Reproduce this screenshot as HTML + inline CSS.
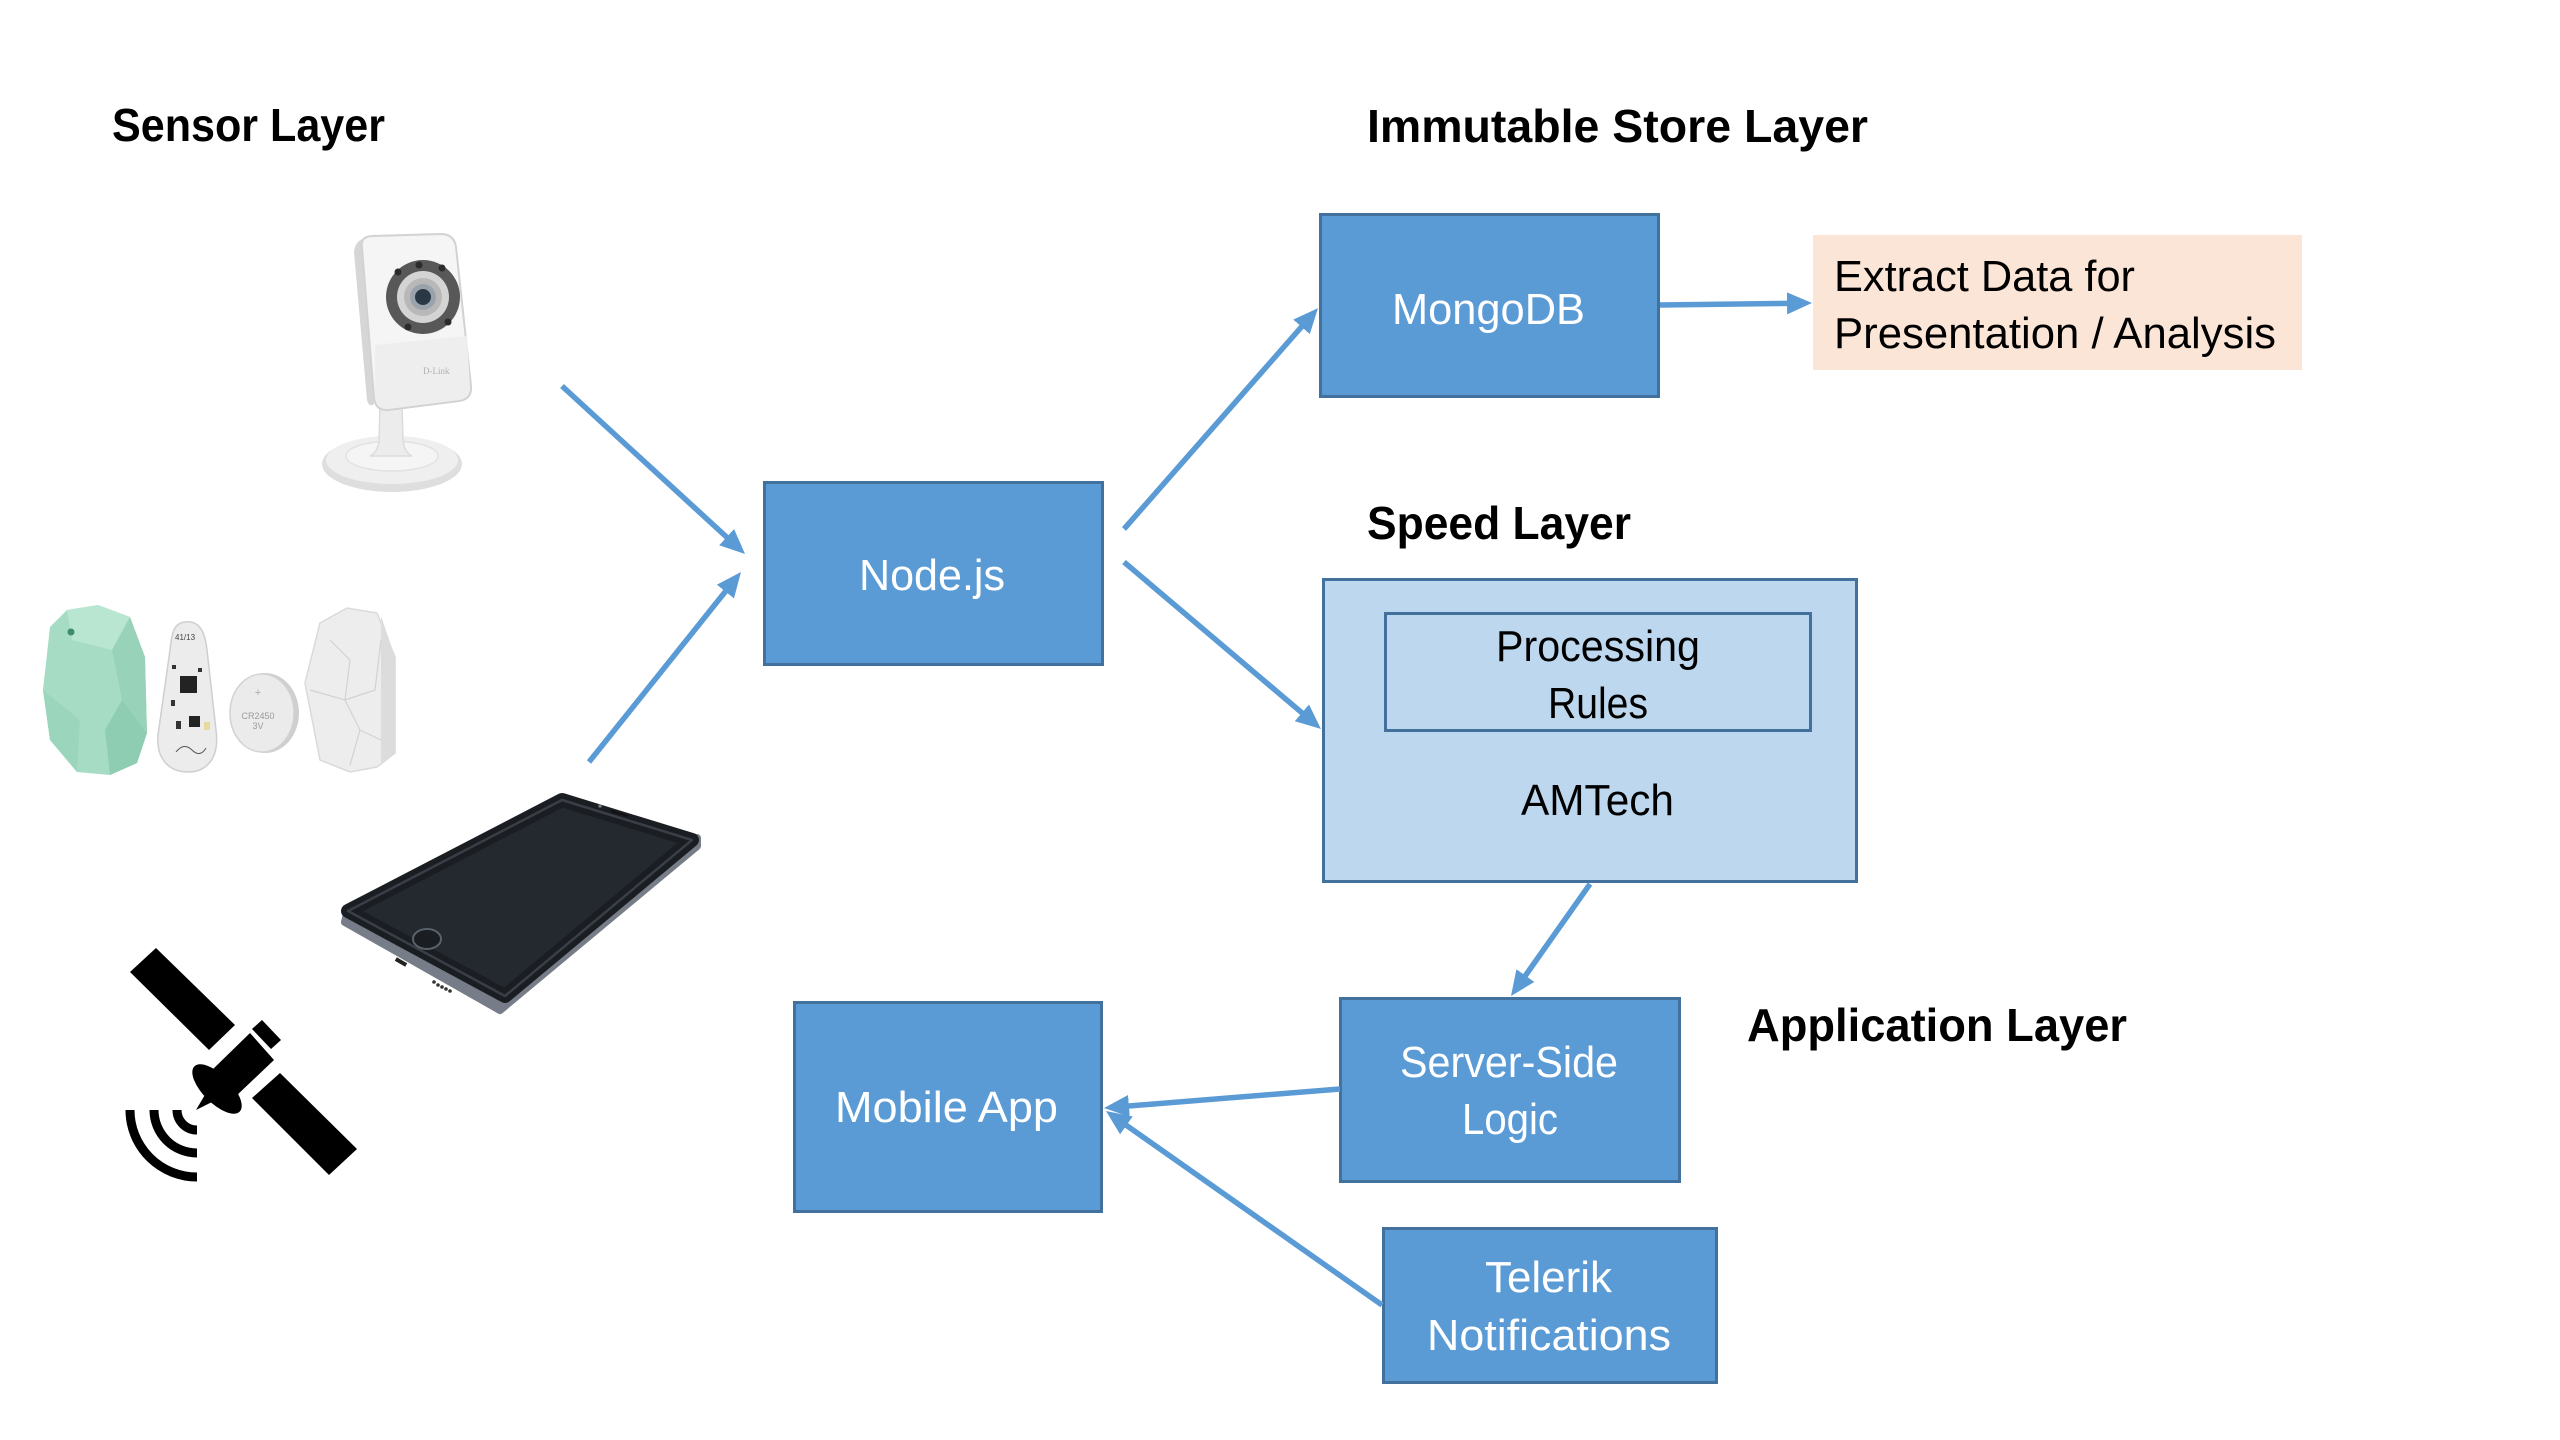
<!DOCTYPE html>
<html>
<head>
<meta charset="utf-8">
<style>
  html,body{margin:0;padding:0;background:#fff;}
  svg{display:block;}
  .t{font-family:"Liberation Sans",Arial,sans-serif;font-weight:bold;font-size:46px;fill:#000;}
  .w{font-family:"Liberation Sans",Arial,sans-serif;font-size:44px;fill:#fff;}
  .b{font-family:"Liberation Sans",Arial,sans-serif;font-size:44px;fill:#000;}
</style>
</head>
<body>
<svg width="2560" height="1440" viewBox="0 0 2560 1440" xmlns="http://www.w3.org/2000/svg">
  <defs>
    <marker id="ah" viewBox="0 0 25 22" markerWidth="25" markerHeight="22" refX="13" refY="11" orient="auto" markerUnits="userSpaceOnUse">
      <path d="M0,0 L25,11 L0,22 z" fill="#5B9BD5"/>
    </marker>
  </defs>
  <rect width="2560" height="1440" fill="#fff"/>

  <!-- Titles -->
  <text class="t" x="112" y="141" textLength="273" lengthAdjust="spacingAndGlyphs">Sensor Layer</text>
  <text class="t" x="1367" y="142" textLength="501" lengthAdjust="spacingAndGlyphs">Immutable Store Layer</text>
  <text class="t" x="1367" y="539" textLength="264" lengthAdjust="spacingAndGlyphs">Speed Layer</text>
  <text class="t" x="1747" y="1041" textLength="380" lengthAdjust="spacingAndGlyphs">Application Layer</text>

  <!-- Boxes -->
  <rect x="1320.5" y="214.5" width="338" height="182" fill="#5B9BD5" stroke="#41719C" stroke-width="3"/>
  <rect x="1813" y="235" width="489" height="135" fill="#FBE5D6"/>
  <rect x="764.5" y="482.5" width="338" height="182" fill="#5B9BD5" stroke="#41719C" stroke-width="3"/>
  <rect x="1323.5" y="579.5" width="533" height="302" fill="#BDD7EE" stroke="#41719C" stroke-width="3"/>
  <rect x="1385.5" y="613.5" width="425" height="117" fill="#BDD7EE" stroke="#41719C" stroke-width="3"/>
  <rect x="1340.5" y="998.5" width="339" height="183" fill="#5B9BD5" stroke="#41719C" stroke-width="3"/>
  <rect x="794.5" y="1002.5" width="307" height="209" fill="#5B9BD5" stroke="#41719C" stroke-width="3"/>
  <rect x="1383.5" y="1228.5" width="333" height="154" fill="#5B9BD5" stroke="#41719C" stroke-width="3"/>

  <!-- Box labels -->
  <text class="w" x="1392" y="324" textLength="193" lengthAdjust="spacingAndGlyphs">MongoDB</text>
  <text class="b" x="1834" y="291" textLength="301" lengthAdjust="spacingAndGlyphs">Extract Data for</text>
  <text class="b" x="1834" y="348" textLength="442" lengthAdjust="spacingAndGlyphs">Presentation / Analysis</text>
  <text class="w" x="859" y="590" textLength="146" lengthAdjust="spacingAndGlyphs">Node.js</text>
  <text class="b" x="1496" y="661" textLength="204" lengthAdjust="spacingAndGlyphs">Processing</text>
  <text class="b" x="1548" y="718" textLength="100" lengthAdjust="spacingAndGlyphs">Rules</text>
  <text class="b" x="1521" y="815" textLength="153" lengthAdjust="spacingAndGlyphs">AMTech</text>
  <text class="w" x="1400" y="1077" textLength="218" lengthAdjust="spacingAndGlyphs">Server-Side</text>
  <text class="w" x="1462" y="1134" textLength="96" lengthAdjust="spacingAndGlyphs">Logic</text>
  <text class="w" x="835" y="1122" textLength="223" lengthAdjust="spacingAndGlyphs">Mobile App</text>
  <text class="w" x="1485" y="1292" textLength="127" lengthAdjust="spacingAndGlyphs">Telerik</text>
  <text class="w" x="1427" y="1350" textLength="244" lengthAdjust="spacingAndGlyphs">Notifications</text>

  <!-- Arrows -->
  <g stroke="#5B9BD5" stroke-width="5.5" fill="none" marker-end="url(#ah)">
    <line x1="562" y1="386" x2="736.2" y2="545.9"/>
    <line x1="589" y1="762" x2="733.5" y2="581.4"/>
    <line x1="1124" y1="529" x2="1310.1" y2="317.1"/>
    <line x1="1124" y1="562" x2="1311.8" y2="721.2"/>
    <line x1="1660" y1="305" x2="1800" y2="303.2"/>
    <line x1="1590" y1="884" x2="1517.9" y2="986.2"/>
    <line x1="1340" y1="1089" x2="1116" y2="1107"/>
    <line x1="1382" y1="1305" x2="1115.8" y2="1117.9"/>
  </g>

  <!-- Camera -->
  <g>
    <ellipse cx="392" cy="464" rx="70" ry="28" fill="#dedede"/>
    <ellipse cx="392" cy="460" rx="66" ry="24" fill="#efefef"/>
    <ellipse cx="392" cy="456" rx="46" ry="15" fill="#f5f5f5" stroke="#e2e2e2" stroke-width="1.5"/>
    <path d="M380,404 L402,404 L403,440 Q404,452 412,456 L370,456 Q378,452 379,440 Z" fill="#ececec" stroke="#dcdcdc" stroke-width="1.5"/>
    <path d="M354,252 Q355,240 366,238 L374,404 Q369,408 367,400 Z" fill="#d6d6d6"/>
    <path d="M362,248 Q360,236 373,236 L441,234 Q454,234 456,247 L471,386 Q472,399 459,401 L388,410 Q376,411 374,398 Z" fill="#f5f5f5" stroke="#d2d2d2" stroke-width="2"/>
    <path d="M375,345 L467,336 L470,386 Q471,398 459,400 L388,409 Q377,410 375,398 Z" fill="#eeeeee"/>
    <text x="423" y="374" font-family="Liberation Serif,serif" font-size="9" fill="#b0b0b0">D-Link</text>
    <circle cx="423" cy="297" r="37" fill="#585858"/>
    <circle cx="423" cy="297" r="26" fill="#d4d4d4"/>
    <circle cx="423" cy="297" r="19" fill="#b8b8b8"/>
    <circle cx="423" cy="297" r="13" fill="#9aa3ab"/>
    <circle cx="423" cy="297" r="8" fill="#2a3745"/>
    <g fill="#2b2b2b">
      <circle cx="419" cy="265" r="3.5"/>
      <circle cx="442" cy="268" r="3.5"/>
      <circle cx="448" cy="322" r="3.5"/>
      <circle cx="408" cy="327" r="3.5"/>
      <circle cx="398" cy="272" r="3.5"/>
    </g>
  </g>

  <!-- Green beacon -->
  <g>
    <polygon points="50,627 67,610 98,605 130,617 145,657 147,733 137,763 110,775 77,772 50,740 43,690" fill="#a6dcc4"/>
    <polygon points="67,610 98,605 130,617 112,650 72,640" fill="#b8e6d1"/>
    <polygon points="130,617 145,657 147,733 122,700 112,650" fill="#98d3b9"/>
    <polygon points="122,700 147,733 137,763 110,775 105,730" fill="#8fcdb2"/>
    <polygon points="43,690 50,740 77,772 80,720" fill="#9bd6bc"/>
    <circle cx="71" cy="632" r="3.5" fill="#3f8c69"/>
  </g>
  <!-- PCB -->
  <g>
    <path d="M185,622 C198,620 205,630 207,650 L216,730 C220,760 205,772 188,772 C170,772 156,760 158,735 L170,650 C172,630 175,623 185,622 Z" fill="#ececec" stroke="#cfcfcf" stroke-width="1.5"/>
    <text x="175" y="640" font-family="Liberation Sans,sans-serif" font-size="8" fill="#444">41/13</text>
    <rect x="180" y="676" width="17" height="17" fill="#232323"/>
    <rect x="189" y="716" width="11" height="11" fill="#232323"/>
    <rect x="172" y="665" width="4" height="4" fill="#333"/>
    <rect x="198" y="668" width="4" height="4" fill="#333"/>
    <rect x="171" y="700" width="4" height="6" fill="#333"/>
    <rect x="176" y="721" width="5" height="8" fill="#333"/>
    <rect x="204" y="722" width="6" height="8" fill="#e8d9a0"/>
    <path d="M176,752 q8,-10 16,-2 q8,8 14,-2" stroke="#555" stroke-width="1" fill="none"/>
  </g>
  <!-- Coin battery -->
  <g>
    <ellipse cx="265" cy="713" rx="34" ry="40" fill="#cfcfcf"/>
    <ellipse cx="262" cy="713" rx="32" ry="39" fill="#ebebeb" stroke="#d2d2d2" stroke-width="1.5"/>
    <text x="258" y="696" font-family="Liberation Sans,sans-serif" font-size="11" fill="#aaa" text-anchor="middle">+</text>
    <text x="258" y="719" font-family="Liberation Sans,sans-serif" font-size="9" fill="#9a9a9a" text-anchor="middle">CR2450</text>
    <text x="258" y="729" font-family="Liberation Sans,sans-serif" font-size="9" fill="#9a9a9a" text-anchor="middle">3V</text>
  </g>
  <!-- White beacon -->
  <g>
    <polygon points="320,623 347,608 377,613 395,657 395,753 377,767 350,772 320,760 305,683" fill="#ededed" stroke="#dadada" stroke-width="1.5"/>
    <polygon points="381,616 395,657 395,753 381,765" fill="#dcdcdc"/>
    <polyline points="330,640 350,660 345,700 360,730 350,765" stroke="#d2d2d2" stroke-width="1.2" fill="none"/>
    <polyline points="310,690 345,700 375,690 381,640" stroke="#d2d2d2" stroke-width="1.2" fill="none"/>
    <polyline points="360,730 381,740" stroke="#d2d2d2" stroke-width="1.2" fill="none"/>
  </g>

  <!-- Phone -->
  <g stroke-linejoin="round">
    <polygon points="347,914 345,922 500,1010 697,846 697,838 505,1000" fill="#767d88" stroke="#767d88" stroke-width="8"/>
    <polygon points="562,800 692,840 505,996 348,911" fill="#24282f" stroke="#1a1d22" stroke-width="14"/>
    <polygon points="562,800 692,840 505,996 348,911" fill="none" stroke="#3a3f47" stroke-width="2.5"/>
    <ellipse cx="427" cy="939" rx="14" ry="10" fill="#1a1d22" stroke="#5b616b" stroke-width="2"/>
    <line x1="611" y1="811" x2="628" y2="816" stroke="#111" stroke-width="2"/>
    <circle cx="600" cy="806" r="1.8" fill="#777"/>
    <rect x="395" y="960" width="12" height="4" fill="#222" transform="rotate(30 401 962)"/>
    <g fill="#333">
      <circle cx="434" cy="982" r="1.8"/><circle cx="438" cy="985" r="1.8"/><circle cx="442" cy="987" r="1.8"/>
      <circle cx="446" cy="989" r="1.8"/><circle cx="450" cy="991" r="1.8"/>
    </g>
  </g>

  <!-- Satellite -->
  <g fill="#000">
    <polygon points="130,972 156,948 235,1025 209,1050"/>
    <polygon points="252,1098 280,1073 357,1149 329,1175"/>
    <polygon points="274,1060 234,1098 210,1072 250,1033"/>
    <polygon points="252,1029 262,1020 281,1040 271,1049"/>
    <ellipse cx="217" cy="1089" rx="32" ry="14" transform="rotate(45 217 1089)"/>
    <polygon points="206,1093 214,1101 196,1110"/>
    <g fill="none" stroke="#000" stroke-width="9">
      <path d="M177,1110 A20,20 0 0 0 197,1130"/>
      <path d="M154,1110 A43,43 0 0 0 197,1153"/>
      <path d="M130,1110 A67,67 0 0 0 197,1177"/>
    </g>
  </g>
</svg>
</body>
</html>
